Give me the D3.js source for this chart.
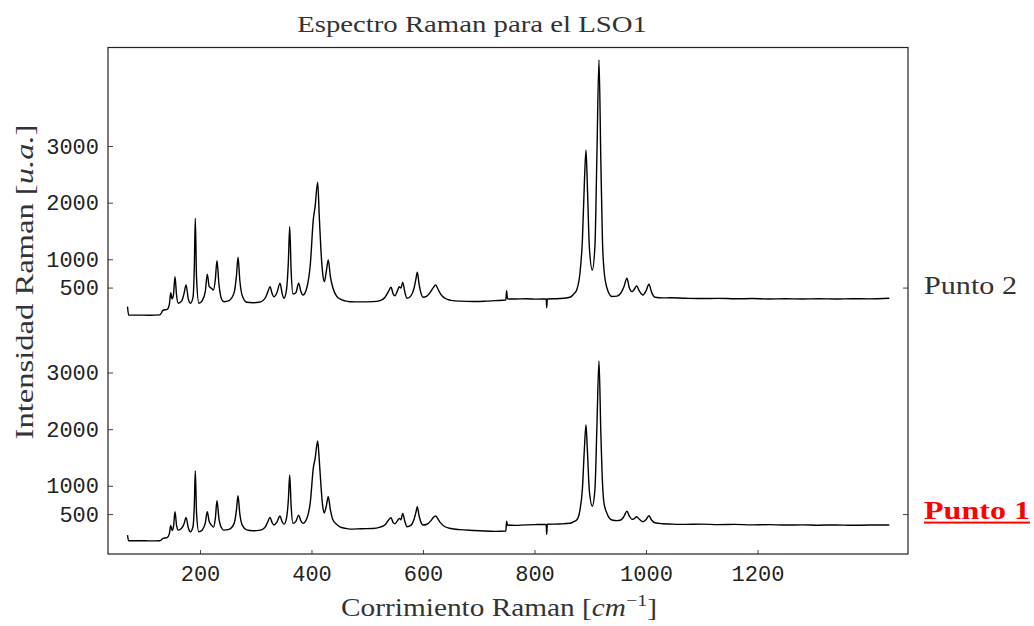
<!DOCTYPE html>
<html><head><meta charset="utf-8">
<script src="https://cdn.jsdelivr.net/npm/d3@7"></script>
<style>body{margin:0;background:#fff}svg{display:block}</style>
</head><body><svg id="c" width="1034" height="626"></svg>
<script>
// ---- data (Raman shift in cm^-1, intensity in u.a.) ----
const shift = [70,72,90,110,128,134,141,145,147.5,150,
152.5,155.2,158,161,167,171.5,175,179,183,187.5,
189.8,191.6,193.8,198,204,209.5,213.1,216.5,220.6,224.2,
227.5,230.5,234,239,243,252,261.5,265.5,268.2,271.5,
276,284,295,306,316,321.5,325.6,329.5,332.7,338,
343.5,347.5,350.7,355,358.5,360.9,363.5,366.8,372,377,
381,384.8,392,398,403.2,406.5,411.1,414,417,420,
423,426.5,430.1,434,438.6,445,451,460,469,490,
510,523,532,538,542.6,546.5,549.8,554,557.5,560.5,
563.6,567.5,571.3,578,584,587.3,589.8,593,597,600,
607,614,618.5,622.8,627,632,639.5,650,666,690,
710,730,748.5,750.1,751.5,765,785,805,821,821.9,
823,845,863.7,871,875.7,881.6,886,889.5,892.4,895,
898.5,903.7,908.5,912,915.7,919,922,924.7,930.1,939,
948,954.6,960,965.9,970,974.9,979,983.3,988,994.6,
1000,1005.4,1010,1016.1,1030,1043,1070,1100,1130,1160,
1190,1220,1250,1280,1310,1340,1370,1400,1436.4];
const punto1 = [129,28,30,26,30,70,85,150,300,210,
280,541,300,217,250,330,442,260,187,280,
650,1260,520,187,220,340,541,370,306,270,
420,735,420,250,217,230,340,580,823,500,
300,220,205,212,260,360,442,345,306,360,
465,360,323,420,750,1189,640,336,370,482,
380,336,430,720,1308,1480,1790,1450,1000,650,
520,640,806,570,394,320,275,250,235,242,
246,270,310,390,435,350,330,380,424,400,
512,370,276,300,410,530,629,470,340,306,
320,380,440,465,410,340,276,245,225,210,
200,195,200,376,307,300,310,315,318,141,
320,325,337,370,395,571,950,1650,2073,1600,
900,640,950,2050,3204,1950,1050,694,512,395,
385,395,450,553,470,406,420,452,410,364,
400,470,395,346,330,325,318,322,314,318,
310,314,306,310,304,308,302,306,306];
const punto2 = [163,16,14,12,18,100,115,200,410,300,
380,693,360,223,260,400,546,300,223,330,
850,1724,680,223,270,430,735,520,488,458,
640,975,560,290,251,270,420,720,1035,620,
350,240,233,240,300,420,516,390,339,410,
576,390,311,450,950,1576,800,387,410,576,
430,369,510,920,1695,1930,2361,1750,1150,760,
604,780,988,690,488,350,300,265,251,248,
252,270,330,430,505,390,355,440,516,490,
594,420,311,350,490,650,770,560,380,329,
350,430,500,546,470,380,311,275,260,255,
258,270,281,445,300,298,302,296,300,145,
298,306,329,390,458,758,1350,2350,2931,2250,
1200,811,1250,2850,4522,2750,1300,811,488,342,
350,400,500,664,500,428,470,528,440,369,
440,558,420,329,318,320,312,306,310,302,
306,298,302,299,302,298,304,300,311];
const seriesNames = ["Punto 1", "Punto 2"];
const seriesOffsets = [0, 4000];
const xTickValues = [200, 400, 600, 800, 1000, 1200];
const yTickValues = [500, 1000, 2000, 3000];
const titleText = "Espectro Raman para el LSO1";

// ---- layout ----
const svg = d3.select("#c");
const L = 108, R = 908, T = 47.5, B = 554;
const x = d3.scaleLinear().domain([35, 1470]).range([L, R]);
const y = d3.scaleLinear().domain([-205, 8740]).range([B, T]);
const monoFont = "'Liberation Mono', 'DejaVu Sans Mono', monospace";
const serifFont = "'Liberation Serif', 'DejaVu Serif', serif";

// fit text horizontally to a target width (text drawn at origin of g)
function fitWidth(textSel, w) {
  const bb = textSel.node().getBBox();
  if (bb.width > 0) textSel.attr("transform", `scale(${w / bb.width},1)`);
}

// axes (ticks inward)
const styleAxis = g => {
  g.select(".domain").remove();
  g.selectAll(".tick line").attr("stroke", "#444").attr("stroke-width", 1);
  g.selectAll(".tick text").attr("fill", "#222").attr("font-family", monoFont).attr("font-size", 22);
};
seriesOffsets.forEach(off => {
  svg.append("g").attr("transform", `translate(${L},0)`)
    .call(d3.axisLeft(y).tickValues(yTickValues.map(v => v + off))
      .tickFormat(d => d - off).tickSize(-5).tickPadding(9))
    .call(styleAxis);
  svg.append("g").attr("transform", `translate(${R},0)`)
    .call(d3.axisRight(y).tickValues([yTickValues[0] + off]).tickFormat("").tickSize(-5))
    .call(styleAxis);
});
svg.append("g").attr("transform", `translate(0,${B})`)
  .call(d3.axisBottom(x).tickValues(xTickValues).tickFormat(d3.format("d")).tickSize(-4).tickPadding(11))
  .call(styleAxis);

// frame
svg.append("rect").attr("x", L).attr("y", T).attr("width", R - L).attr("height", B - T)
  .attr("fill", "none").attr("stroke", "#222").attr("stroke-width", 1.2);

// spectra
const line = d3.line().curve(d3.curveMonotoneX);
[punto1, punto2].forEach((vals, i) => {
  const pts = shift.map((s, j) => [x(s), y(vals[j] + seriesOffsets[i])]);
  svg.append("path").attr("d", line(pts)).attr("fill", "none")
    .attr("stroke", "#000").attr("stroke-width", 1.4).attr("stroke-linejoin", "round");
});

// title
{
  const g = svg.append("g").attr("transform", `translate(472,31.5)`);
  const t = g.append("text").attr("text-anchor", "middle").attr("font-family", serifFont)
    .attr("font-size", 22.5).attr("fill", "#333").text(titleText);
  fitWidth(t, 350);
}
// x label
{
  const g = svg.append("g").attr("transform", `translate(499,616)`);
  const t = g.append("text").attr("text-anchor", "middle").attr("font-family", serifFont)
    .attr("font-size", 25).attr("fill", "#333");
  t.append("tspan").text("Corrimiento Raman [");
  t.append("tspan").attr("font-style", "italic").text("cm");
  t.append("tspan").attr("font-size", 17).attr("dy", -10).text("−1");
  t.append("tspan").attr("dy", 10).text("]");
  fitWidth(t, 316);
}
// y label
{
  const g = svg.append("g").attr("transform", `translate(33,282) rotate(-90)`);
  const t = g.append("text").attr("text-anchor", "middle").attr("font-family", serifFont)
    .attr("font-size", 25).attr("fill", "#333");
  t.append("tspan").text("Intensidad Raman [");
  t.append("tspan").attr("font-style", "italic").text("u.a.");
  t.append("tspan").text("]");
  fitWidth(t, 315);
}
// series labels on the right
{
  const g2 = svg.append("g").attr("transform", `translate(924,${y(yTickValues[0] + seriesOffsets[1]) + 6})`);
  const t2 = g2.append("text").attr("font-family", serifFont).attr("font-size", 25)
    .attr("fill", "#333").text(seriesNames[1]);
  fitWidth(t2, 93);
  const g1 = svg.append("g").attr("transform", `translate(924,${y(yTickValues[0] + seriesOffsets[0]) + 5})`);
  const t1 = g1.append("text").attr("font-family", serifFont).attr("font-size", 25)
    .attr("font-weight", "bold").attr("fill", "#ff0000").text(seriesNames[0]);
  fitWidth(t1, 106);
  g1.append("rect").attr("x", 0).attr("y", 2.5).attr("width", 106).attr("height", 2).attr("fill", "#ff0000");
}
</script></body></html>
